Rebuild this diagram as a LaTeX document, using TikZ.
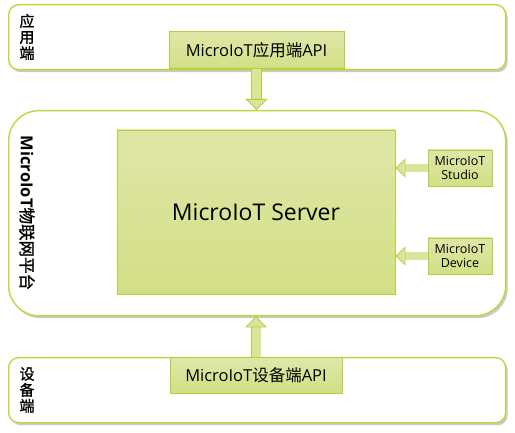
\documentclass[tikz,border=0pt]{standalone}
\usepackage{fontspec}
\setmainfont{Open Sans}
\newfontfamily\cjk{Noto Sans CJK SC}
\newfontfamily\cjkbold[FakeBold=1.2]{Noto Sans CJK SC}
\usetikzlibrary{positioning,arrows.meta,shadows}
\definecolor{bandline}{HTML}{C4D43C}
\definecolor{boxline}{HTML}{B9CC3A}
\definecolor{boxtop}{HTML}{DFE7A8}
\definecolor{boxbot}{HTML}{D3DF86}
\definecolor{arrowfill}{HTML}{DAE49A}

\begin{document}
\begin{tikzpicture}[
		x=1pt, y=-1pt,
		band/.style={ % 外层圆角框
				draw=bandline, line width=1.4pt, fill=white,
				rounded corners=10pt, anchor=north west,
				drop shadow={shadow xshift=2pt, shadow yshift=-2.5pt,
						opacity=0.35, fill=black!60}
			},
		greenbox/.style={
				draw=boxline, line width=0.9pt,
				top color=boxtop, bottom color=boxbot,
				inner sep=0pt, align=center
			},
		bandlabel/.style={font=\cjkbold\fontsize{15}{16}\selectfont, inner sep=0pt, align=center},
		fatarrow/.style={ % 粗箭头
				draw=boxline, line width=0.8pt,
				double=arrowfill, double distance=9pt,
				-{Triangle[width=22pt,length=11pt,fill=arrowfill]}
			},
		thinarrow/.style={
				draw=boxline, line width=0.7pt,
				double=arrowfill, double distance=7.5pt,
				-{Triangle[width=19pt,length=10pt,fill=arrowfill]}
			}
	]
	\useasboundingbox (0,0) rectangle (515,433);
	% 三层
	\node[band, minimum width=497, minimum height=65] (app) at (8,4) {};
	\node[band, rounded corners=30pt, minimum width=497, minimum height=205] (plat) at (8,110) {};
	\node[band, minimum width=497, minimum height=65] (dev) at (8,357) {};
	% 左侧标题
	\node[bandlabel] (applabel) at (27,37) {应\\用\\端};
	\node[bandlabel, rotate=-90, font=\cjkbold\fontsize{16.5}{18}\selectfont] (platlabel) at (27,213)
	{{\bfseries\fontspec{Open Sans} MicroIoT}物联网平台};
	\node[bandlabel] (devlabel) at (27,390) {设\\备\\端};
	% 接口和服务
	\node[greenbox, minimum width=175, minimum height=37, anchor=south,
		font=\fontsize{16.5}{18}\selectfont] (appapi) at (256.5,69) {MicroIoT{\cjk 应用端}API};
	\node[greenbox, minimum width=172, minimum height=36, anchor=north,
		font=\fontsize{16.5}{18}\selectfont] (devapi) at (256,357) {MicroIoT{\cjk 设备端}API};
	\node[greenbox, minimum width=278, minimum height=164,
		font=\fontsize{23}{26}\selectfont] (server) at (256,212) {MicroIoT Server};
	\node[greenbox, minimum width=64, minimum height=36,
		font=\fontsize{12.5}{14}\selectfont] (studio) at (460,168) {MicroIoT\\Studio};
	\node[greenbox, minimum width=64, minimum height=36,
		font=\fontsize{12.5}{14}\selectfont] (device) at (460,256) {MicroIoT\\Device};
	% 箭头
	\draw[fatarrow] (appapi.south) -- (appapi.south |- plat.north);
	\draw[fatarrow] (devapi.north) -- (devapi.north |- plat.south);
	\draw[thinarrow] (studio.west) -- (studio.west -| server.east);
	\draw[thinarrow] (device.west) -- (device.west -| server.east);
\end{tikzpicture}
\end{document}
